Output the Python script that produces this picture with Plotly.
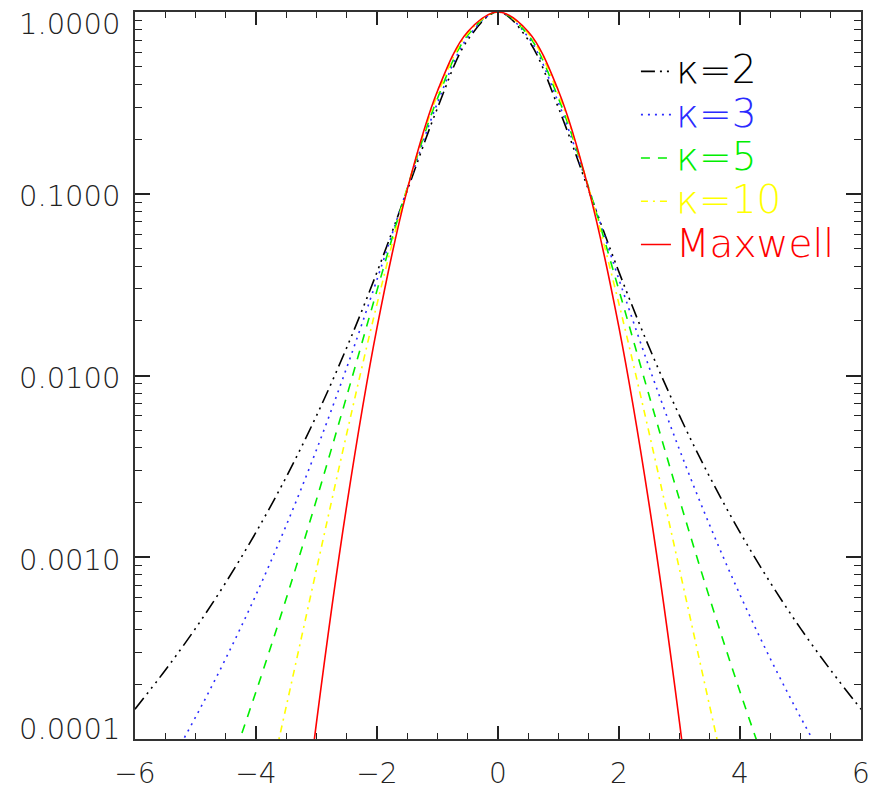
import math
import plotly.graph_objects as go

# ---- data ----
x_k2 = [-6, -5.5, -5, -4.5, -4, -3.5, -3, -2.5, -2, -1.5, -1, -0.5, 0,
        0.5, 1, 1.5, 2, 2.5, 3, 3.5, 4, 4.5, 5, 5.5, 6]
y_k2 = [1.46e-4, 2.39e-4, 4.06e-4, 7.26e-4, 1.372e-3, 2.765e-3, 6.01e-3, 1.425e-2, 3.704e-2, 0.1042, 0.2963, 0.7023, 1.0,
        0.7023, 0.2963, 0.1042, 3.704e-2, 1.425e-2, 6.01e-3, 2.765e-3, 1.372e-3, 7.26e-4, 4.06e-4, 2.39e-4, 1.46e-4]

x_k3 = [-6, -5.5, -5, -4.5, -4, -3.5, -3, -2.5, -2, -1.5, -1, -0.5, 0,
        0.5, 1, 1.5, 2, 2.5, 3, 3.5, 4, 4.5, 5, 5.5, 6]
y_k3 = [3.50e-5, 6.63e-5, 1.318e-4, 2.772e-4, 6.215e-4, 1.498e-3, 3.906e-3, 1.106e-2, 3.374e-2, 0.1066, 0.3164, 0.7260, 1.0,
        0.7260, 0.3164, 0.1066, 3.374e-2, 1.106e-2, 3.906e-3, 1.498e-3, 6.215e-4, 2.772e-4, 1.318e-4, 6.63e-5, 3.50e-5]

x_k5 = [-5, -4.5, -4, -3.5, -3, -2.5, -2, -1.5, -1, -0.5, 0,
        0.5, 1, 1.5, 2, 2.5, 3, 3.5, 4, 4.5, 5]
y_k5 = [2.14e-5, 6.03e-5, 1.822e-4, 5.93e-4, 2.075e-3, 7.707e-3, 2.940e-2, 0.1076, 0.3349, 0.7462, 1.0,
        0.7462, 0.3349, 0.1076, 2.940e-2, 7.707e-3, 2.075e-3, 5.93e-4, 1.822e-4, 6.03e-5, 2.14e-5]

x_k10 = [-4.5, -4, -3.5, -3, -2.5, -2, -1.5, -1, -0.5, 0,
         0.5, 1, 1.5, 2, 2.5, 3, 3.5, 4, 4.5]
y_k10 = [5.15e-6, 2.72e-5, 1.511e-4, 8.58e-4, 4.795e-3, 2.470e-2, 0.1073, 0.3505, 0.7622, 1.0,
         0.7622, 0.3505, 0.1073, 2.470e-2, 4.795e-3, 8.58e-4, 1.511e-4, 2.72e-5, 5.15e-6]

x_max = [-3.5, -3, -2.5, -2, -1.5, -1, -0.5, 0, 0.5, 1, 1.5, 2, 2.5, 3, 3.5]
y_max = [4.79e-6, 1.234e-4, 1.930e-3, 1.832e-2, 0.1054, 0.3679, 0.7788, 1.0,
         0.7788, 0.3679, 0.1054, 1.832e-2, 1.930e-3, 1.234e-4, 4.79e-6]

names = ["κ=2", "κ=3", "κ=5", "κ=10", "Maxwell"]
ytick_vals = [1.0, 0.1, 0.01, 0.001, 0.0001]
ytick_text = ["1.0000", "0.1000", "0.0100", "0.0010", "0.0001"]

# ---- styling ----
FONT = "DejaVu Sans"
colors = ["#000000", "#2b2bff", "#00ee00", "#ffff00", "#ff0000"]
dashes = ["14px,5px,2px,5px,2px,5px,2px,5px", "2px,5px", "9px,8px", "7px,5px,2px,5px", "solid"]

series = [(x_k2, y_k2), (x_k3, y_k3), (x_k5, y_k5), (x_k10, y_k10), (x_max, y_max)]

fig = go.Figure()
for (xs, ys), nm, c, d in zip(series, names, colors, dashes):
    fig.add_trace(go.Scatter(
        x=xs, y=ys, mode="lines",
        line=dict(color=c, width=1.6, dash=d, shape="spline", smoothing=1.0),
        name=f"<span style='color:{c};font-size:39px'>{nm}</span>",
    ))

minor_y = [m * 10 ** e for e in range(-4, 0) for m in range(2, 10)]

fig.update_layout(
    width=869, height=794,
    margin=dict(l=135, r=8, t=12, b=55, autoexpand=False),
    paper_bgcolor="white", plot_bgcolor="white",
    font=dict(family=FONT, size=29, color="#222222", weight=200),
    showlegend=True,
    legend=dict(
        x=0.69, y=0.955, xanchor="left", yanchor="top",
        bgcolor="rgba(0,0,0,0)", borderwidth=0,
        font=dict(family=FONT, size=31, weight=200),
        itemwidth=30, tracegroupgap=0,
    ),
    xaxis=dict(
        range=[-6, 6], tick0=-6, dtick=2, ticks="inside", ticklen=13, tickwidth=1.5,
        tickcolor="#222222", showline=True, linecolor="#333333", linewidth=1.5,
        mirror="ticks", showgrid=False, zeroline=False, automargin=False,
        minor=dict(dtick=0.5, ticks="inside", ticklen=6, tickwidth=1.2, tickcolor="#222222", showgrid=False),
        tickfont=dict(family=FONT, size=28, color="#222222", weight=200),
        ticklabelstandoff=9, ticklabeloverflow="allow",
    ),
    yaxis=dict(
        type="log", range=[-4, 0], tickvals=ytick_vals, showticklabels=False,
        ticks="inside", ticklen=15, tickwidth=1.5, tickcolor="#222222",
        showline=True, linecolor="#333333", linewidth=1.5, mirror="ticks",
        showgrid=False, zeroline=False, automargin=False,
        minor=dict(tickvals=minor_y, ticks="inside", ticklen=7, tickwidth=1.2, tickcolor="#222222", showgrid=False),
    ),
)

yshifts = [-12, -2, -2, -3, 10]
for v, t, s in zip(ytick_vals, ytick_text, yshifts):
    fig.add_annotation(
        x=0, xref="paper", y=math.log10(v), yref="y", text=t, showarrow=False,
        xanchor="right", yanchor="middle", xshift=-13, yshift=s,
        font=dict(family=FONT, size=29, color="#222222", weight=200),
    )

fig.write_html("out.html")
